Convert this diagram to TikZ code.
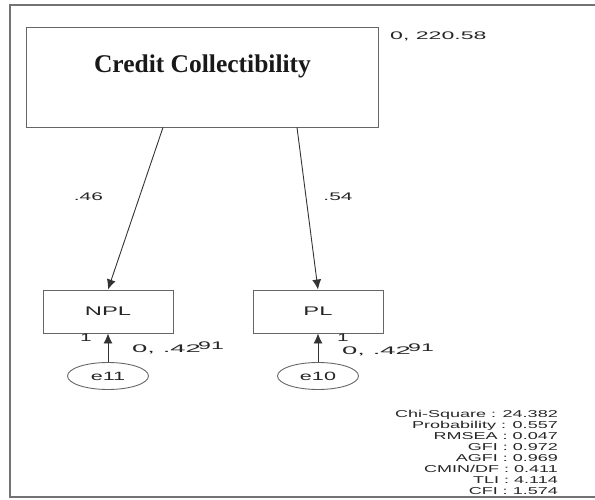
\documentclass[tikz,border=0pt]{standalone}
\usepackage{fontspec}
\usepackage{graphicx}
\setmainfont{Liberation Serif}
\setsansfont{Liberation Sans}
\usetikzlibrary{shapes.geometric,arrows.meta,positioning}
\newcommand\stretchx[2][1.9]{\scalebox{#1}[1]{#2}}
\tikzset{
	box/.style={draw=black!60,line width=0.9pt,rectangle,inner sep=0pt},
	err/.style={draw=black!60,line width=0.9pt,ellipse,inner sep=0pt,minimum width=81pt,minimum height=27pt,font=\sffamily\fontsize{12}{12}\selectfont,text=black!85},
	path/.style={draw=black!80,line width=0.9pt,-{Latex[length=10pt,width=9pt]}},
	amos/.style={font=\sffamily\fontsize{11}{11}\selectfont,text=black!85,inner sep=0pt}
}
\begin{document}
\begin{tikzpicture}[x=1pt,y=-1pt]
\useasboundingbox (0,0) rectangle (595,500);
% frame
\draw[black!55,line width=1.6pt](600,5)--(10,5)--(10,497)--(600,497);
% latent variable
\node[box,minimum width=352pt,minimum height=100pt] (cc) at (202.5,77){};
\node[font=\bfseries\fontsize{25.5}{25.5}\selectfont,text=black!90] (ccname) at (202.5,66){Credit Collectibility};
\node[amos,anchor=west] (ccvar) at (390,36){\stretchx[2.1]{0, 220.58}};
% indicators
\node[box,minimum width=130pt,minimum height=43pt,font=\sffamily\fontsize{12.5}{12.5}\selectfont,text=black!85] (npl) at (108,311.5){\stretchx{NPL}};
\node[box,minimum width=130pt,minimum height=43pt,font=\sffamily\fontsize{12.5}{12.5}\selectfont,text=black!85] (pl) at (318,311.5){\stretchx{PL}};
\draw[path]([xshift=-39.5pt]cc.south)--node[amos,pos=0.43,left=36pt]{\stretchx{.46}}(npl.north);
\draw[path]([xshift=94.5pt]cc.south)--node[amos,pos=0.43,right=17pt]{\stretchx{.54}}(pl.north);
% errors
\node[err] (e11) at (108,376){\stretchx[1.8]{e11}};
\node[err] (e10) at (318,376){\stretchx[1.8]{e10}};
\draw[path](e11.north)--(npl.south);
\draw[path](e10.north)--(pl.south);
\node[amos] (one11) at (86,338){\stretchx{1}};
\node[amos] (one10) at (343,338){\stretchx{1}};
\node[amos,anchor=west] (v11) at (132,349){\stretchx[2.5]{0, .42}};
\node[amos,anchor=west] (w11) at (198,346){\stretchx[2.1]{91}};
\node[amos,anchor=west] (v10) at (342,351){\stretchx[2.5]{0, .42}};
\node[amos,anchor=west] (w10) at (408,348){\stretchx[2.1]{91}};
% fit indices
\node[amos,anchor=north east,font=\sffamily\fontsize{10}{11}\selectfont] (fit) at (558,410){\stretchx[1.8]{\begin{tabular}{@{}r@{}}Chi-Square : 24.382\\Probability : 0.557\\RMSEA : 0.047\\GFI : 0.972\\AGFI : 0.969\\CMIN/DF : 0.411\\TLI : 4.114\\CFI : 1.574\end{tabular}}};
\end{tikzpicture}
\end{document}
